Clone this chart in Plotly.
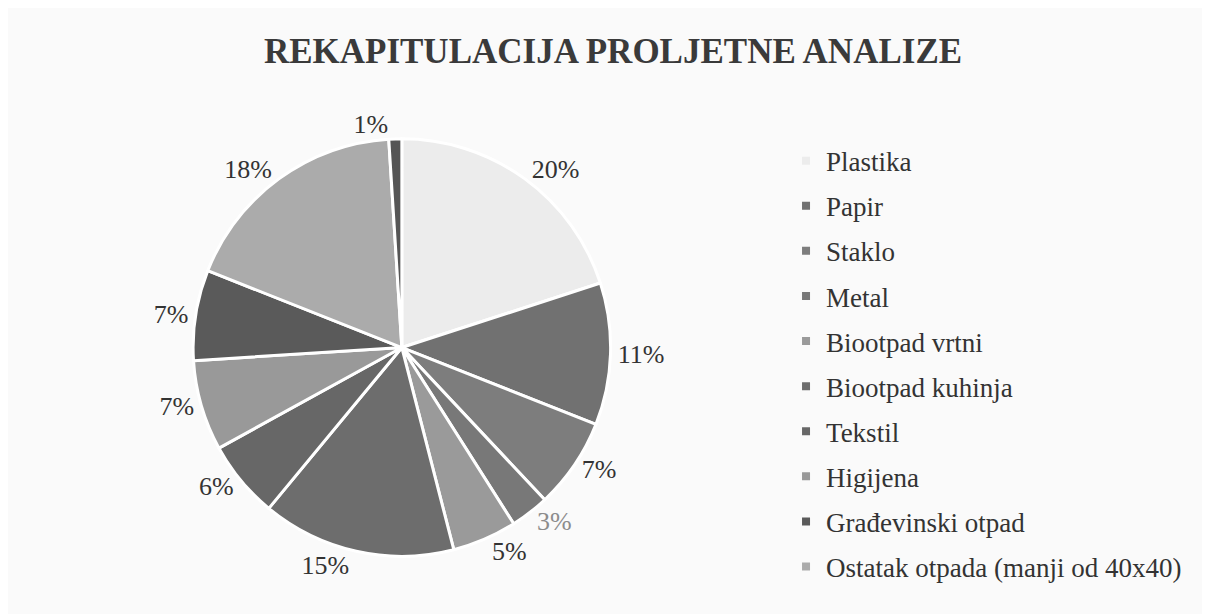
"""Pie chart: spring waste analysis recap."""

import plotly.graph_objects as go

categories = [
    "Plastika",
    "Papir",
    "Staklo",
    "Metal",
    "Biootpad vrtni",
    "Biootpad kuhinja",
    "Tekstil",
    "Higijena",
    "Građevinski otpad",
    "Ostatak otpada (manji od 40x40)",
    "Ostalo",
]
shares = [20, 11, 7, 3, 5, 15, 6, 7, 7, 18, 1]
slice_colors = [
    "#ececec", "#717171", "#7d7d7d", "#787878", "#9a9a9a", "#6d6d6d",
    "#676767", "#999999", "#5a5a5a", "#ababab", "#555555",
]
label_colors = ["#333333"] * 11
label_colors[3] = "#8c8c8c"

# the original legend only lists the first ten categories
legend_count = 10

SERIF = "Liberation Serif, Times New Roman, serif"

fig = go.Figure()

fig.add_trace(
    go.Pie(
        labels=categories,
        values=shares,
        sort=False,
        direction="clockwise",
        rotation=0,
        marker={"colors": slice_colors, "line": {"color": "white", "width": 3}},
        textposition="outside",
        texttemplate="%{percent:.0%}",
        textfont={"family": SERIF, "size": 26, "color": label_colors},
        domain={"x": [0.151, 0.500], "y": [0.107, 0.787]},
        showlegend=False,
        hoverinfo="label+percent",
    )
)

for name, color in zip(categories[:legend_count], slice_colors[:legend_count]):
    fig.add_trace(
        go.Scatter(
            x=[None],
            y=[None],
            mode="markers",
            name=name,
            legendgroup=name,
            marker={"symbol": "square", "size": 8, "color": color},
        )
    )

fig.update_layout(
    width=1210,
    height=614,
    margin={"l": 0, "r": 0, "t": 0, "b": 0},
    paper_bgcolor="#fafafa",
    plot_bgcolor="#fafafa",
    title={
        "text": "<b>REKAPITULACIJA PROLJETNE ANALIZE</b>",
        "font": {"family": SERIF, "size": 35, "color": "#3a3a3a"},
        "x": 0.5,
        "xanchor": "center",
        "y": 0.93,
        "yanchor": "middle",
    },
    xaxis={"visible": False},
    yaxis={"visible": False},
    legend={
        "x": 0.643,
        "y": 0.42,
        "xanchor": "left",
        "yanchor": "middle",
        "font": {"family": SERIF, "size": 27, "color": "#333333"},
        "tracegroupgap": 7,
        "bgcolor": "rgba(0,0,0,0)",
    },
)

fig.write_html("out.html")
